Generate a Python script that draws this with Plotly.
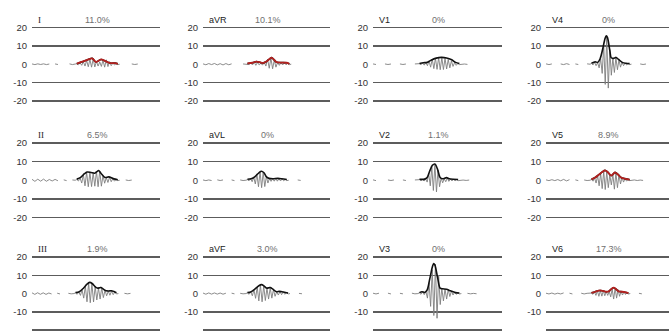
import numpy as np
import plotly.graph_objects as go

# ---------------- data ----------------
LEADS = ["I", "aVR", "V1", "V4", "II", "aVL", "V2", "V5", "III", "aVF", "V3", "V6"]
PCTS = ["11.0%", "10.1%", "0%", "0%", "6.5%", "0%", "1.1%", "8.9%", "1.9%", "3.0%", "0%", "17.3%"]
RED_ENV = [True, True, False, False, False, False, False, True, False, False, False, True]
Y_TICKS = [20, 10, 0, -10, -20]
GRID_VALS = [20, 10, -10, -20]

# envelope (x in % of panel width, y in mV-like units)
ENV_X = [
    [35, 40, 44, 47, 50, 54, 57, 61, 65, 67],
    [35, 39, 42, 45, 47, 50, 53, 54, 56, 58, 62, 66, 68],
    [36, 39, 42, 45, 49, 53, 57, 61, 64, 67],
    [37, 40, 42, 44, 46, 48, 49, 50, 52, 53, 55, 57, 59, 62, 65, 68],
    [35, 38, 41, 43, 46, 49, 51, 52, 54, 57, 60, 63, 65, 67],
    [35, 38, 41, 44, 46, 48, 50, 52, 55, 59, 62, 66],
    [36, 40, 42, 44, 46, 48, 50, 52, 54, 57, 59, 62, 66],
    [37, 40, 43, 46, 48, 50, 53, 55, 56, 58, 61, 63, 66, 68],
    [34, 37, 40, 43, 45, 47, 49, 51, 53, 54, 56, 58, 60, 62, 64, 66],
    [35, 38, 41, 44, 46, 48, 50, 52, 53, 55, 58, 60, 62, 65, 67],
    [36, 38, 40, 42, 44, 46, 47, 48, 50, 52, 54, 57, 60, 64, 67],
    [37, 40, 42, 44, 46, 49, 51, 53, 55, 57, 59, 62, 65, 67],
]
ENV_Y = [
    [0.3, 1.5, 2.6, 3.2, 1.2, 2.6, 1.8, 0.6, 0.6, 0.2],
    [0.4, 0.8, 1.4, 1.0, 0.6, 1.5, 3.2, 3.6, 2.4, 1.1, 0.9, 0.8, 0.2],
    [0.4, 0.8, 1.0, 2.2, 3.3, 3.7, 3.4, 2.4, 1.0, 0.4],
    [0.5, 1.3, 1.0, 3.0, 8.0, 14.0, 15.5, 14.5, 7.0, 3.5, 3.2, 3.7, 2.6, 1.0, 0.5, 0.3],
    [0.6, 1.5, 3.5, 4.4, 4.2, 3.8, 4.8, 5.2, 3.6, 1.5, 1.8, 1.0, 0.6, 0.3],
    [0.5, 0.8, 2.0, 4.0, 4.8, 4.0, 1.8, 1.0, 0.8, 1.0, 0.8, 0.4],
    [0.5, 0.6, 1.5, 5.0, 8.0, 8.7, 6.0, 1.5, 0.8, 1.4, 0.8, 0.5, 0.4],
    [0.5, 1.5, 3.0, 4.6, 5.3, 4.5, 2.5, 3.6, 4.2, 3.4, 1.5, 1.0, 0.6, 0.3],
    [0.5, 1.0, 2.8, 5.2, 6.1, 5.5, 4.0, 3.0, 3.2, 3.3, 2.3, 1.5, 1.4, 1.5, 1.1, 0.5],
    [0.5, 1.0, 2.5, 4.3, 4.9, 4.2, 3.0, 3.2, 3.3, 2.4, 1.0, 1.2, 1.0, 0.6, 0.3],
    [0.5, 1.0, 0.6, 2.0, 8.0, 14.5, 16.4, 15.5, 9.0, 3.0, 2.6, 2.4, 1.5, 0.5, 0.3],
    [0.4, 1.0, 1.5, 1.7, 1.5, 1.0, 1.2, 2.4, 3.2, 2.4, 1.2, 1.0, 0.6, 0.3],
]

# raw oscillating signal in the burst region
BURST_START = [35, 35, 36, 37, 35, 35, 36, 37, 34, 35, 36, 37]
BURST_END = [67, 68, 67, 68, 67, 66, 66, 68, 66, 67, 67, 67]
BURST = [
    [0.2, -0.3, 0.8, -0.6, 1.4, -1.0, 2.0, -1.4, 2.6, -1.6, 2.9, -1.5, 1.5, -1.0, 1.2, -1.2, 2.2, -1.6, 2.4, -1.3, 1.4, -0.8, 0.6, -0.4, 0.4, -0.2],
    [0.3, -0.2, 0.6, -0.4, 1.1, -0.6, 1.0, -0.4, 0.5, -0.5, 1.2, -1.0, 2.8, -2.2, 3.3, -2.5, 2.2, -1.6, 1.0, -0.6, 0.8, -0.4, 0.7, -0.3, 0.5, -0.2],
    [0.3, -0.3, 0.7, -0.5, 0.9, -0.8, 1.8, -1.6, 2.8, -2.4, 3.3, -2.8, 3.6, -3.0, 3.5, -2.9, 3.2, -2.6, 2.6, -2.0, 1.8, -1.2, 0.9, -0.6, 0.4, -0.2],
    [0.4, -0.4, 1.1, -0.8, 0.9, -2.0, 3.0, -5.0, 10.5, -11.0, 15.0, -13.0, 8.0, -6.0, 3.2, -4.5, 3.6, -3.0, 2.4, -1.6, 1.0, -0.8, 0.6, -0.4, 0.4, -0.2],
    [0.4, -0.4, 1.2, -1.5, 3.0, -3.0, 4.2, -3.5, 4.2, -3.4, 4.0, -3.2, 4.6, -3.5, 5.0, -3.2, 2.5, -1.6, 1.4, -1.2, 1.6, -0.8, 0.9, -0.5, 0.4, -0.2],
    [0.3, -0.3, 0.7, -0.8, 1.6, -2.0, 3.4, -3.5, 4.6, -4.0, 4.2, -3.4, 2.0, -1.5, 1.0, -0.6, 0.8, -0.5, 0.9, -0.5, 0.9, -0.4, 0.7, -0.3, 0.4, -0.2],
    [0.3, -0.3, 0.4, -0.4, 0.6, -1.0, 3.5, -3.0, 7.0, -5.5, 8.5, -6.3, 5.5, -3.5, 1.2, -1.4, 0.8, -0.8, 1.2, -0.6, 0.6, -0.4, 0.5, -0.3, 0.3, -0.2],
    [0.4, -0.5, 1.2, -1.5, 2.4, -3.0, 3.6, -4.5, 4.8, -5.0, 4.6, -4.0, 3.0, -2.5, 3.2, -4.8, 4.0, -4.0, 3.0, -2.0, 1.4, -1.0, 0.9, -0.5, 0.5, -0.2],
    [0.4, -0.4, 0.8, -1.0, 2.0, -2.5, 4.0, -4.5, 5.8, -5.0, 5.6, -4.6, 3.8, -3.5, 3.0, -3.0, 3.1, -2.2, 1.8, -1.2, 1.3, -0.9, 1.3, -0.6, 0.8, -0.2],
    [0.4, -0.4, 0.9, -1.2, 2.0, -2.6, 3.6, -4.0, 4.7, -4.5, 4.2, -3.8, 2.9, -3.0, 3.1, -2.5, 2.2, -1.5, 1.0, -0.8, 1.1, -0.6, 0.9, -0.4, 0.5, -0.2],
    [0.4, -0.4, 0.9, -0.6, 1.2, -2.5, 6.0, -7.0, 13.0, -12.0, 16.0, -13.5, 10.0, -6.0, 2.8, -4.0, 2.5, -3.0, 2.2, -1.6, 1.4, -0.8, 0.8, -0.4, 0.4, -0.2],
    [0.3, -0.4, 0.8, -1.0, 1.4, -1.5, 1.6, -1.4, 1.4, -1.2, 1.0, -1.0, 1.2, -1.8, 2.4, -3.0, 3.0, -2.5, 2.2, -1.5, 1.1, -0.8, 0.9, -0.5, 0.5, -0.2],
]

# baseline noise before / after the burst (None = gap)
PRE_NOISE = [
    [0.15, -0.2, 0.2, -0.15, 0.2, -0.2, 0.1, None, 0.15, -0.15, None, None, None, 0.2, -0.2, 0.1],
    [0.2, -0.3, 0.35, -0.2, 0.4, -0.35, 0.3, -0.4, 0.35, -0.3, 0.2, None, None, None, 0.15, 0.0],
    [0.15, -0.15, None, None, 0.15, -0.15, 0.1, None, None, 0.15, -0.15, 0.1, None, None, 0.15, 0.0],
    [0.2, -0.2, 0.15, None, None, 0.15, -0.2, 0.3, -0.15, None, 0.15, -0.15, None, None, 0.2, 0.0],
    [0.5, -0.6, 0.55, -0.5, 0.6, -0.55, 0.4, -0.4, 0.45, -0.3, None, 0.2, -0.2, None, 0.15, 0.0],
    [0.15, -0.2, 0.15, -0.15, None, 0.2, -0.15, 0.15, None, None, 0.15, -0.2, None, 0.15, -0.15, 0.0],
    [0.2, -0.2, None, None, None, 0.15, -0.15, 0.15, None, None, 0.15, -0.15, None, None, 0.15, 0.0],
    [0.2, -0.2, 0.3, -0.2, 0.35, -0.3, 0.45, -0.35, 0.3, None, 0.2, -0.2, None, 0.15, -0.15, 0.0],
    [0.4, -0.45, 0.45, -0.4, 0.4, -0.45, 0.3, -0.2, None, 0.2, -0.2, None, None, 0.15, -0.15, 0.0],
    [0.3, -0.35, 0.35, -0.3, 0.35, -0.3, 0.3, -0.35, 0.2, None, 0.2, -0.15, None, 0.15, -0.15, 0.0],
    [0.2, -0.2, 0.2, None, None, 0.2, -0.2, None, None, 0.15, -0.15, None, None, 0.2, -0.15, 0.0],
    [0.2, -0.2, 0.3, -0.3, 0.2, -0.2, 0.35, None, 0.2, -0.2, None, None, 0.2, -0.2, 0.15, 0.0],
]
POST_NOISE = [
    [0.0, None, None, None, 0.15, -0.15, 0.1, None],
    [0.0, None, None, None, None, None, None, None],
    [0.0, 0.1, -0.1, None, None, None, None, None],
    [0.0, None, None, 0.15, -0.15, 0.1, None, None],
    [0.0, None, 0.15, -0.15, 0.1, None, None, None],
    [0.0, None, None, 0.15, -0.1, None, None, None],
    [0.0, 0.1, -0.1, 0.1, None, None, None, None],
    [0.0, 0.15, -0.15, 0.1, -0.1, None, None, None],
    [0.0, None, 0.15, -0.15, 0.1, None, None, None],
    [0.0, None, None, 0.1, -0.1, None, None, None],
    [0.0, None, 0.15, -0.15, 0.1, -0.1, None, None],
    [0.0, None, None, 0.15, -0.15, None, None, None],
]

# ---------------- layout geometry ----------------
W, H = 669, 335
COL_PX = [(32, 160), (203, 330), (373, 502), (546, 669)]
ROW_PX = [(22.1, 100.9), (140.1, 219.9), (256.5, 335.0)]
Y_RANGES = [[-21, 21], [-21, 21], [-21, 21]]

GRID_COLOR = "#5c5c5c"
SIG_COLOR = "#7e7e7e"
RED = "#b3211f"

fig = go.Figure()
layout = dict(
    width=W, height=H, margin=dict(l=0, r=0, t=0, b=0),
    paper_bgcolor="white", plot_bgcolor="white", showlegend=False,
    annotations=[],
)

for i, lead in enumerate(LEADS):
    r, c = divmod(i, 4)
    n = i + 1
    xa = "x" if n == 1 else f"x{n}"
    ya = "y" if n == 1 else f"y{n}"
    xd = [COL_PX[c][0] / W, min(COL_PX[c][1] / W, 1.0)]
    yd = [max(1 - ROW_PX[r][1] / H, 0.0), 1 - ROW_PX[r][0] / H]
    layout[f"xaxis{n}"] = dict(domain=xd, range=[0, 100], anchor=ya, visible=False,
                               showgrid=False, zeroline=False, fixedrange=True)
    layout[f"yaxis{n}"] = dict(
        domain=yd, range=Y_RANGES[r], anchor=xa, showgrid=False, zeroline=False,
        tickmode="array", tickvals=Y_TICKS, ticktext=[str(v) for v in Y_TICKS],
        ticks="", ticklabelstandoff=4, showline=False,
        tickfont=dict(family="Liberation Sans", size=9.5, color="#333333"),
        minor=dict(tickmode="array", tickvals=GRID_VALS, showgrid=True,
                   gridcolor=GRID_COLOR, gridwidth=1.4, ticks=""),
        fixedrange=True,
    )

    # raw signal: pre-noise + burst + post-noise
    s, e = BURST_START[i], BURST_END[i]
    pre_x = np.linspace(0, s - 1.2, len(PRE_NOISE[i]))
    bx = np.linspace(s, e, len(BURST[i]))
    post_x = np.linspace(e + 1.5, e + 18, len(POST_NOISE[i]))
    sx = list(pre_x) + list(bx) + list(post_x)
    sy = PRE_NOISE[i] + BURST[i] + POST_NOISE[i]
    fig.add_trace(go.Scatter(x=sx, y=sy, mode="lines", xaxis=xa, yaxis=ya,
                             line=dict(color=SIG_COLOR, width=0.9),
                             connectgaps=False, hoverinfo="skip"))
    # envelope
    fig.add_trace(go.Scatter(x=ENV_X[i], y=ENV_Y[i], mode="lines", xaxis=xa, yaxis=ya,
                             line=dict(color="#111111", width=1.6, shape="spline", smoothing=0.8),
                             hoverinfo="skip"))
    if RED_ENV[i]:
        fig.add_trace(go.Scatter(x=ENV_X[i], y=ENV_Y[i], mode="lines", xaxis=xa, yaxis=ya,
                                 line=dict(color=RED, width=1.8, shape="spline", smoothing=0.8),
                                 hoverinfo="skip"))

    serif = lead in ("I", "II", "III")
    layout["annotations"].append(dict(
        text=lead, xref=f"{xa} domain", yref=ya, x=0.03, y=20.3,
        xanchor="left", yanchor="bottom", showarrow=False,
        font=dict(family="Liberation Serif" if serif else "Liberation Sans",
                  size=9, color="#222222")))
    layout["annotations"].append(dict(
        text=PCTS[i], xref=f"{xa} domain", yref=ya, x=0.51, y=20.3,
        xanchor="center", yanchor="bottom", showarrow=False,
        font=dict(family="Liberation Sans", size=9, color="#707070")))

fig.update_layout(**layout)
fig.write_html("out.html",
               config={"displayModeBar": False, "staticPlot": True},
               post_script="document.body.style.margin='0';document.body.style.overflow='hidden';")
